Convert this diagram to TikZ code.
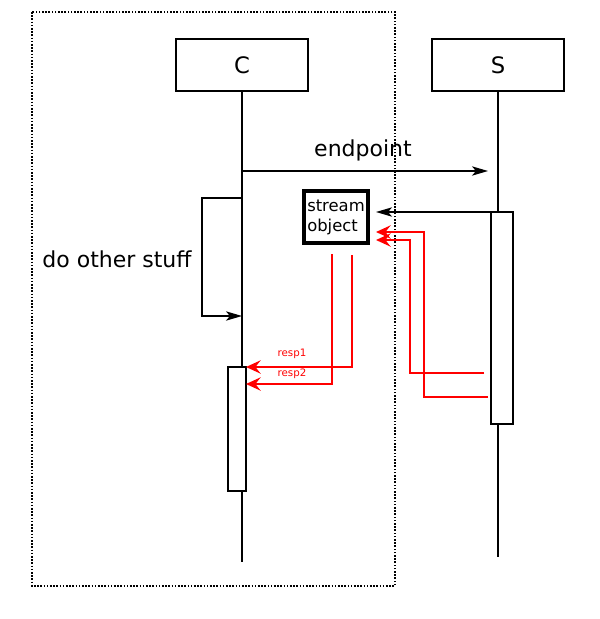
\documentclass[tikz,border=0pt]{standalone}
\usepackage{fontspec}
\setmainfont{DejaVu Sans}
\usetikzlibrary{arrows.meta}
\begin{document}
\begin{tikzpicture}[x=0.75pt,y=-0.75pt,
  line width=1.2pt,
  actor/.style={draw, line width=1.2pt, minimum width=99pt, minimum height=39pt, inner sep=0pt, font=\fontsize{17}{19}\selectfont},
  label/.style={inner sep=0pt, font=\fontsize{16.5}{18}\selectfont},
  actbox/.style={draw, fill=white, inner sep=0pt},
  streambox/.style={draw, line width=3pt, minimum width=48pt, minimum height=39pt, inner sep=0pt, align=left, font=\fontsize{12.3}{15}\selectfont},
  resplabel/.style={text=red, inner sep=0pt, font=\fontsize{7.7}{9}\selectfont},
  blackarrow/.style={-{Stealth[length=12pt,width=7pt,inset=3pt]}},
  redarrow/.style={red, line width=1.6pt, -{Stealth[length=11pt,width=10pt,inset=4pt]}},
  frame/.style={line width=1.3pt, dash pattern=on 1.2pt off 1.2pt}
]
\useasboundingbox (0,0) rectangle (600,619);

% frame
\draw[frame] (32,12) rectangle (395,586);

% actors
\node[actor] (C) at (242,65) {C};
\node[actor] (S) at (498,65) {S};

% lifeline ends
\coordinate (Cend) at (242,562);
\coordinate (Send) at (498,557);
\draw (C.south) -- (Cend);
\draw (S.south) -- (Send);

% activation boxes
\node[actbox, line width=0.9pt, minimum width=13.5pt, minimum height=93pt] (Cact) at (237,429) {};
\node[actbox, line width=1.2pt, minimum width=16.5pt, minimum height=159pt] (Sact) at (502,318) {};

% endpoint message
\coordinate (ep1) at (242,171);
\coordinate (ep2) at (488,171);
\draw[blackarrow] (ep1) -- (ep2);
\node[label] (eplabel) at (363,150) {endpoint};

% self loop
\coordinate (l1) at (242,198);
\coordinate (l2) at (202,316);
\coordinate (l3) at (242,316);
\draw[blackarrow] (l1) -| (l2) -- (l3);
\node[label] (loopl) at (117,259) {do other stuff};

% stream object
\node[streambox] (stream) at (336,217) {stream\\object};

\coordinate (s1) at (498,212);
\coordinate (s2) at (376,212);
\draw[blackarrow] (s1) -- (s2);

% red returns from S to stream
\coordinate (r1a) at (484,373);
\coordinate (r1b) at (410,240);
\coordinate (r1c) at (376,240);
\draw[redarrow] (r1a) -| (r1b) -- (r1c);
\coordinate (r2a) at (488,397);
\coordinate (r2b) at (424,232);
\coordinate (r2c) at (376,232);
\draw[redarrow] (r2a) -| (r2b) -- (r2c);

% responses from stream to C
\coordinate (q1a) at (352,255);
\coordinate (q1b) at (246,367);
\draw[redarrow] (q1a) |- (q1b);
\coordinate (q2a) at (332,254);
\coordinate (q2b) at (246,384);
\draw[redarrow] (q2a) |- (q2b);
\node[resplabel] (resp1) at (292,354) {resp1};
\node[resplabel] (resp2) at (292,374) {resp2};
\end{tikzpicture}
\end{document}
